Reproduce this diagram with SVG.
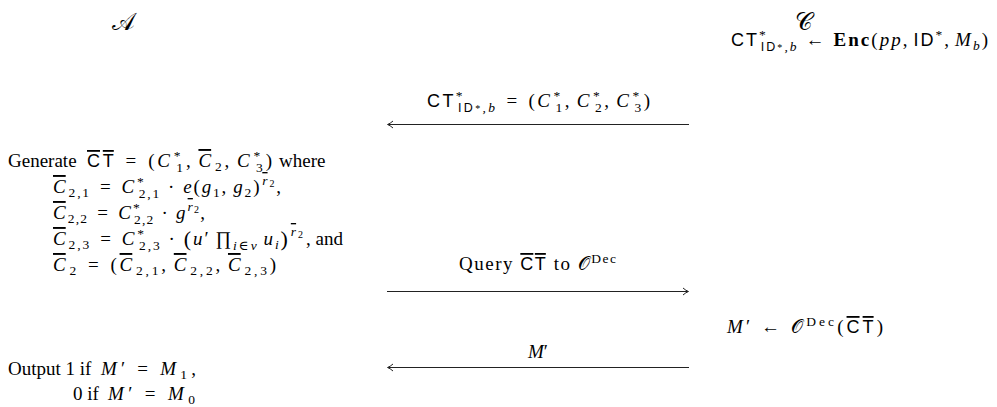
<svg xmlns="http://www.w3.org/2000/svg" width="997" height="407" viewBox="0 0 997 407">
<style>
.t{font-family:"Liberation Serif","DejaVu Serif",serif;font-size:19px;fill:#000}
.i{font-style:italic}
.sf{font-family:"Liberation Sans","DejaVu Sans",sans-serif;font-size:18px;font-style:normal}
.s{font-size:13.5px}
.ss{font-size:10px}
.sfs{font-family:"Liberation Sans","DejaVu Sans",sans-serif;font-size:12.5px;font-style:normal}
.b{font-weight:bold}
.cal{font-family:"DejaVu Serif","DejaVu Sans","Noto Sans",serif;font-style:normal}
.big{font-size:22px}
.hd{font-size:24px}
.ln{stroke:#222;stroke-width:1;fill:none}
</style>
<defs>
<marker id="ah" markerWidth="10" markerHeight="10" refX="7" refY="5" orient="auto-start-reverse" markerUnits="userSpaceOnUse">
<path d="M2,1.5 Q5,4.2 7.5,5 Q5,5.8 2,8.5" fill="none" stroke="#222" stroke-width="1"/>
</marker>
</defs>

<g id="adversary">
<text class="t cal hd" x="123" y="30" text-anchor="middle">𝒜</text>
</g>
<g id="challenger">
<text class="t cal hd" x="804" y="30" text-anchor="middle">𝒞</text>
</g>

<g id="enc-step">
<text class="t" x="731" y="46" textLength="257" lengthAdjust="spacing"><tspan class="sf">CT</tspan><tspan class="s" dy="-7">*</tspan><tspan class="sfs" dx="-7" dy="12">ID</tspan><tspan class="ss">*</tspan><tspan class="s i">,b</tspan><tspan dx="7" dy="-5">←</tspan><tspan class="b" dx="7">Enc</tspan>(<tspan class="i">pp</tspan>,<tspan class="sf" dx="4">ID</tspan><tspan class="s" dy="-7">*</tspan><tspan dy="7">,</tspan><tspan class="i" dx="4">M</tspan><tspan class="s i" dy="4">b</tspan><tspan dy="-4">)</tspan></text>
</g>

<g id="generate-step">
<text class="t" x="8" y="167">Generate</text>
<text class="t" x="87" y="167" textLength="185" lengthAdjust="spacing"><tspan class="sf" text-decoration="overline">CT</tspan><tspan dx="9">=</tspan><tspan dx="9">(</tspan><tspan class="i">C</tspan><tspan class="s" dx="1" dy="-7">*</tspan><tspan class="s" dx="-7" dy="12">1</tspan><tspan dy="-5">,</tspan><tspan class="i" dx="5" text-decoration="overline">C</tspan><tspan class="s" dx="1" dy="4">2</tspan><tspan dy="-4">,</tspan><tspan class="i" dx="5">C</tspan><tspan class="s" dx="1" dy="-7">*</tspan><tspan class="s" dx="-7" dy="12">3</tspan><tspan dy="-5">)</tspan></text>
<text class="t" x="279" y="167">where</text>

<text class="t" x="53" y="193" textLength="228" lengthAdjust="spacing"><tspan class="i" text-decoration="overline">C</tspan><tspan class="s" dx="1" dy="4">2,1</tspan><tspan dx="9" dy="-4">=</tspan><tspan class="i" dx="9">C</tspan><tspan class="s" dx="1" dy="-7">*</tspan><tspan class="s" dx="-7" dy="12">2,1</tspan><tspan dx="7" dy="-5">·</tspan><tspan class="i" dx="7">e</tspan>(<tspan class="i">g</tspan><tspan class="s" dy="4">1</tspan><tspan dy="-4">,</tspan><tspan class="i" dx="5">g</tspan><tspan class="s" dy="4">2</tspan><tspan dy="-4">)</tspan><tspan class="s i" dx="1" dy="-8" text-decoration="overline">r</tspan><tspan class="ss" dy="2">2</tspan><tspan dy="6">,</tspan></text>

<text class="t" x="53" y="219" textLength="152" lengthAdjust="spacing"><tspan class="i" text-decoration="overline">C</tspan><tspan class="s" dx="1" dy="4">2,2</tspan><tspan dx="9" dy="-4">=</tspan><tspan class="i" dx="9">C</tspan><tspan class="s" dx="1" dy="-7">*</tspan><tspan class="s" dx="-7" dy="12">2,2</tspan><tspan dx="7" dy="-5">·</tspan><tspan class="i" dx="7">g</tspan><tspan class="s i" dx="1" dy="-8" text-decoration="overline">r</tspan><tspan class="ss" dy="2">2</tspan><tspan dy="6">,</tspan></text>

<text class="t" x="53" y="245" textLength="250" lengthAdjust="spacing"><tspan class="i" text-decoration="overline">C</tspan><tspan class="s" dx="1" dy="4">2,3</tspan><tspan dx="9" dy="-4">=</tspan><tspan class="i" dx="9">C</tspan><tspan class="s" dx="1" dy="-7">*</tspan><tspan class="s" dx="-7" dy="12">2,3</tspan><tspan dx="7" dy="-5">·</tspan><tspan class="big" dx="7" dy="1">(</tspan><tspan class="i" dy="-1">u</tspan>′<tspan dx="5">∏</tspan><tspan class="s i" dy="5">i</tspan><tspan class="s">∈</tspan><tspan class="s i">v</tspan><tspan class="i" dx="5" dy="-5">u</tspan><tspan class="s i" dy="4">i</tspan><tspan class="big" dy="-3">)</tspan><tspan class="s i" dx="1" dy="-10" text-decoration="overline">r</tspan><tspan class="ss" dy="2">2</tspan></text>
<text class="t" x="306" y="245">, and</text>

<text class="t" x="53" y="271" textLength="223" lengthAdjust="spacing"><tspan class="i" text-decoration="overline">C</tspan><tspan class="s" dx="1" dy="4">2</tspan><tspan dx="9" dy="-4">=</tspan><tspan dx="9">(</tspan><tspan class="i" text-decoration="overline">C</tspan><tspan class="s" dx="1" dy="4">2,1</tspan><tspan dy="-4">,</tspan><tspan class="i" dx="5" text-decoration="overline">C</tspan><tspan class="s" dx="1" dy="4">2,2</tspan><tspan dy="-4">,</tspan><tspan class="i" dx="5" text-decoration="overline">C</tspan><tspan class="s" dx="1" dy="4">2,3</tspan><tspan dy="-4">)</tspan></text>
</g>

<g id="decrypt-step">
<text class="t" x="727" y="333" textLength="156" lengthAdjust="spacing"><tspan class="i">M</tspan>′<tspan dx="8">←</tspan><tspan class="cal" dx="8">𝒪</tspan><tspan class="s" dy="-7">Dec</tspan><tspan dy="7">(</tspan><tspan class="sf" text-decoration="overline">CT</tspan>)</text>
</g>

<g id="output-step">
<text class="t" x="8" y="375">Output 1 if</text>
<text class="t" x="101" y="375" textLength="95" lengthAdjust="spacing"><tspan class="i">M</tspan>′<tspan dx="8">=</tspan><tspan class="i" dx="8">M</tspan><tspan class="s" dy="4">1</tspan><tspan dy="-4">,</tspan></text>
<text class="t" x="73" y="400">0 if</text>
<text class="t" x="108" y="400" textLength="87" lengthAdjust="spacing"><tspan class="i">M</tspan>′<tspan dx="8">=</tspan><tspan class="i" dx="8">M</tspan><tspan class="s" dy="4">0</tspan></text>
</g>

<g id="connectors">
<line class="ln" x1="689" y1="124.5" x2="388" y2="124.5" marker-end="url(#ah)"/>
<text class="t" x="427" y="107" textLength="223" lengthAdjust="spacing"><tspan class="sf">CT</tspan><tspan class="s" dy="-7">*</tspan><tspan class="sfs" dx="-7" dy="12">ID</tspan><tspan class="ss">*</tspan><tspan class="s i">,b</tspan><tspan dx="9" dy="-5">=</tspan><tspan dx="9">(</tspan><tspan class="i">C</tspan><tspan class="s" dx="1" dy="-7">*</tspan><tspan class="s" dx="-7" dy="12">1</tspan><tspan dy="-5">,</tspan><tspan class="i" dx="5">C</tspan><tspan class="s" dx="1" dy="-7">*</tspan><tspan class="s" dx="-7" dy="12">2</tspan><tspan dy="-5">,</tspan><tspan class="i" dx="5">C</tspan><tspan class="s" dx="1" dy="-7">*</tspan><tspan class="s" dx="-7" dy="12">3</tspan><tspan dy="-5">)</tspan></text>
<line class="ln" x1="387" y1="291.5" x2="688" y2="291.5" marker-end="url(#ah)"/>
<text class="t" x="459" y="270" textLength="157" lengthAdjust="spacing">Query <tspan class="sf" text-decoration="overline">CT</tspan> to <tspan class="cal">𝒪</tspan><tspan class="s" dy="-7">Dec</tspan></text>
<line class="ln" x1="689" y1="367.5" x2="388" y2="367.5" marker-end="url(#ah)"/>
<text class="t" x="538" y="358" text-anchor="middle"><tspan class="i">M</tspan>′</text>
</g>
</svg>
